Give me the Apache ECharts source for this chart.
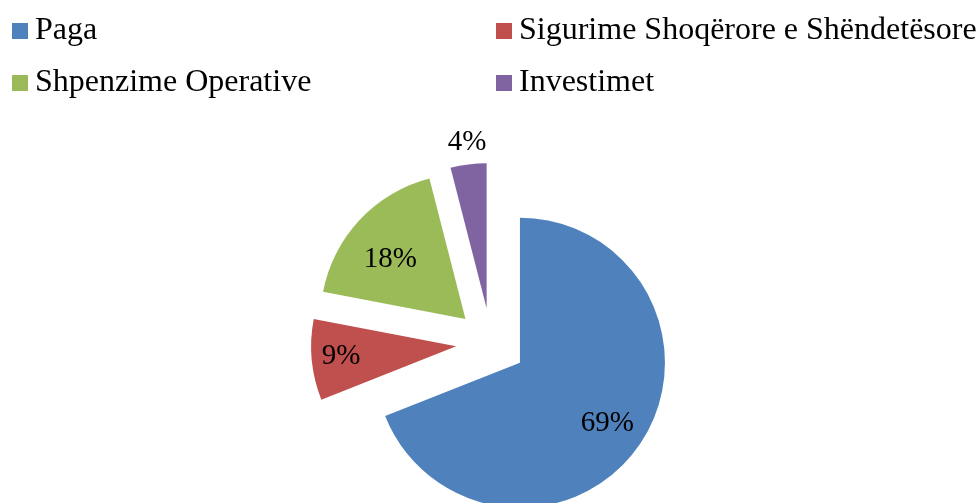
<!DOCTYPE html>
<html>
<head>
<meta charset="utf-8">
<script src="https://cdn.jsdelivr.net/npm/echarts@6/dist/echarts.min.js"></script>
<style>
  html, body { margin: 0; padding: 0; background: #fff; }
  #chart { width: 978px; height: 503px; }
</style>
</head>
<body>
<div id="chart"></div>
<script>
// 数据
const categories = ['Paga', 'Sigurime Shoqërore e Shëndetësore', 'Shpenzime Operative', 'Investimet'];
const values = [69, 9, 18, 4];
const sliceColors = ['#4F81BD', '#C0504D', '#9BBB59', '#8064A2'];

// 标签微调 (相对默认 inside 位置)
const labelShift = [[25, 18], [-40, 3], [-20, -8], [-10, -91]];

const font = 'Liberation Serif, Times New Roman, serif';
const chart = echarts.init(document.getElementById('chart'));

const legendBase = {
    orient: 'vertical',
    top: 15,
    padding: 0,
    itemWidth: 16,
    itemHeight: 16,
    itemGap: 20,
    icon: 'rect',
    selectedMode: false,
    textStyle: {
        color: '#000',
        fontFamily: font,
        fontSize: 32,
        lineHeight: 32,
        padding: [0, 0, 0, 2]
    }
};

const option = {
    backgroundColor: '#fff',
    animation: false,
    legend: [
        { ...legendBase, left: 12, data: [categories[0], categories[2]] },
        { ...legendBase, left: 496, data: [categories[1], categories[3]] }
    ],
    series: [{
        type: 'pie',
        center: [491, 343],
        radius: 145,
        startAngle: 90,
        clockwise: true,
        selectedMode: 'multiple',
        selectedOffset: 35,
        avoidLabelOverlap: false,
        label: {
            show: true,
            position: 'inside',
            formatter: '{d}%',
            color: '#000',
            fontFamily: font,
            fontSize: 29
        },
        labelLine: { show: false },
        labelLayout: (params) => ({
            dx: labelShift[params.dataIndex][0],
            dy: labelShift[params.dataIndex][1]
        }),
        emphasis: { disabled: true },
        data: categories.map((name, i) => ({
            name: name,
            value: values[i],
            selected: true,
            itemStyle: { color: sliceColors[i] }
        }))
    }]
};

chart.setOption(option);
</script>
</body>
</html>
